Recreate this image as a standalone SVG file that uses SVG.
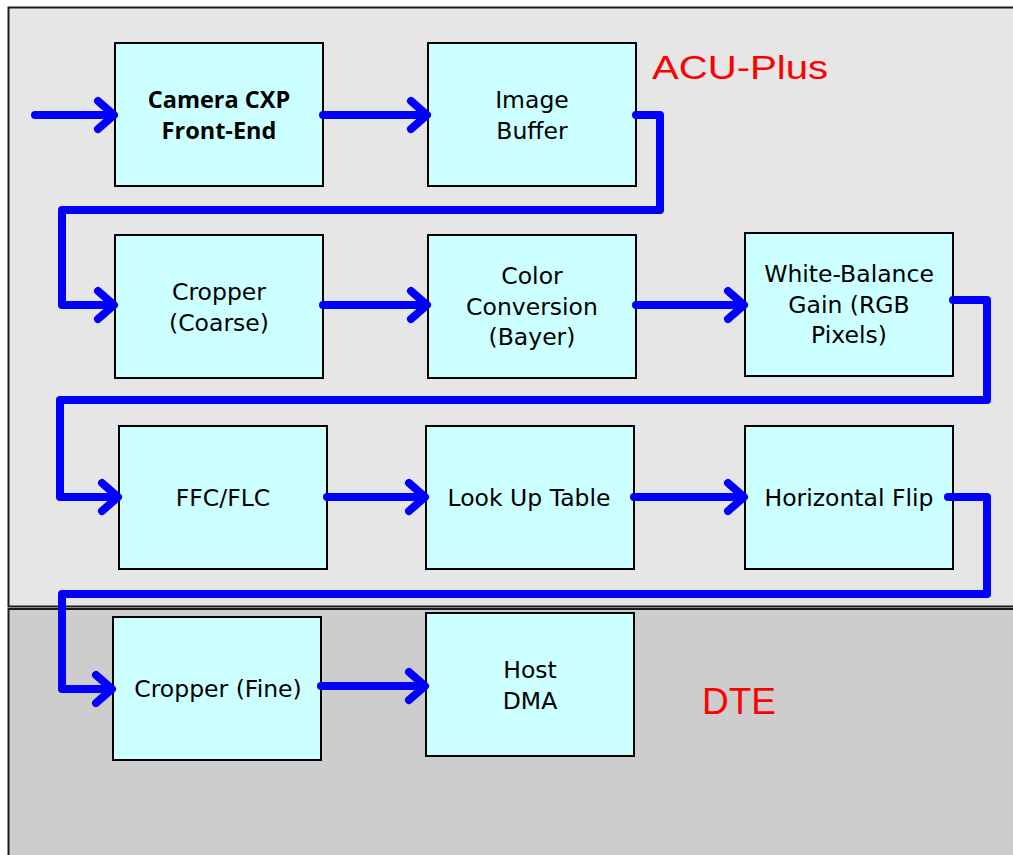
<svg xmlns="http://www.w3.org/2000/svg" width="1013" height="855" viewBox="0 0 1013 855">
<style>
.box{fill:#ccffff;stroke:#000;stroke-width:2}
.t{font-family:"DejaVu Sans","Open Sans",sans-serif;font-size:23.5px;fill:#000;text-anchor:middle}
.b{font-family:"Open Sans","DejaVu Sans",sans-serif;font-size:23.5px;font-weight:bold}
.c{fill:none;stroke:#0000ff;stroke-width:8;stroke-linecap:round;stroke-linejoin:round}
.lbl{font-family:"Liberation Sans",Arial,sans-serif;fill:#ff0000}
</style>
<g id="regions">
<rect x="8.5" y="7.5" width="1010" height="599" fill="#e6e6e6" stroke="#1a1a1a" stroke-width="2"/>
<rect x="8.5" y="609" width="1010" height="255" fill="#cdcdcd" stroke="#1a1a1a" stroke-width="2"/>
<text class="lbl" x="652" y="79" font-size="34" textLength="176" lengthAdjust="spacingAndGlyphs">ACU-Plus</text>
<text class="lbl" x="702" y="714" font-size="37">DTE</text>
</g>
<g id="n1"><rect class="box" x="115" y="43" width="208" height="143"/><text class="t b" x="219" y="108">Camera CXP</text><text class="t b" x="219" y="139">Front-End</text></g>
<g id="n2"><rect class="box" x="428" y="43" width="208" height="143"/><text class="t" x="532" y="108">Image</text><text class="t" x="532" y="139">Buffer</text></g>
<g id="n3"><rect class="box" x="115" y="235" width="208" height="143"/><text class="t" x="219" y="300">Cropper</text><text class="t" x="219" y="331">(Coarse)</text></g>
<g id="n4"><rect class="box" x="428" y="235" width="208" height="143"/><text class="t" x="532" y="284">Color</text><text class="t" x="532" y="315">Conversion</text><text class="t" x="532" y="345">(Bayer)</text></g>
<g id="n5"><rect class="box" x="745" y="233" width="208" height="143"/><text class="t" x="849" y="282">White-Balance</text><text class="t" x="849" y="313">Gain (RGB</text><text class="t" x="849" y="343">Pixels)</text></g>
<g id="n6"><rect class="box" x="119" y="426" width="208" height="143"/><text class="t" x="223" y="506">FFC/FLC</text></g>
<g id="n7"><rect class="box" x="426" y="426" width="208" height="143"/><text class="t" x="529" y="506">Look Up Table</text></g>
<g id="n8"><rect class="box" x="745" y="426" width="208" height="143"/><text class="t" x="849" y="506">Horizontal Flip</text></g>
<g id="n9"><rect class="box" x="113" y="617" width="208" height="143"/><text class="t" x="218" y="697">Cropper (Fine)</text></g>
<g id="n10"><rect class="box" x="426" y="613" width="208" height="143"/><text class="t" x="530" y="678">Host</text><text class="t" x="530" y="709">DMA</text></g>
<g id="connectors">
<path class="c" d="M35 115H113M98 101L114 115L98 129"/>
<path class="c" d="M323 115H426M411 101L427 115L411 129"/>
<path class="c" d="M636 115H660V210H62V305H113M98 291L114 305L98 319"/>
<path class="c" d="M323 305H426M411 291L427 305L411 319"/>
<path class="c" d="M636 305H743M728 291L744 305L728 319"/>
<path class="c" d="M953 300H987V400H60V497H117M102 483L118 497L102 511"/>
<path class="c" d="M327 497H424M409 483L425 497L409 511"/>
<path class="c" d="M634 497H743M728 483L744 497L728 511"/>
<path class="c" d="M948 497H987V594H62V689H111M96 675L112 689L96 703"/>
<path class="c" d="M321 686H424M409 672L425 686L409 700"/>
</g>
</svg>
